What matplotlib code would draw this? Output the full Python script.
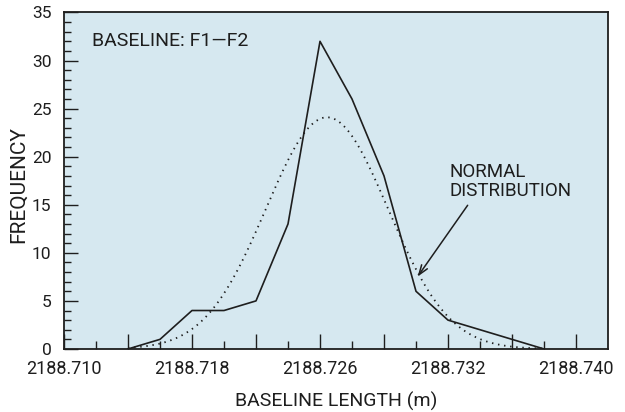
import matplotlib
matplotlib.use('Agg')
import matplotlib.pyplot as plt
import numpy as np

# frequency polygon of repeated baseline measurements F1-F2
BIN_LENGTH = [2188.71375, 2188.715625, 2188.7175, 2188.719375, 2188.72125,
              2188.723125, 2188.725, 2188.726875, 2188.72875, 2188.730625,
              2188.7325, 2188.734375, 2188.73625, 2188.738125]
FREQUENCY = [0, 1, 4, 4, 5, 13, 32, 26, 18, 6, 3, 2, 1, 0]

# fitted normal curve
NORMAL_MEAN = 2188.72541
NORMAL_STD = 0.00357
BIN_WIDTH = 0.001875

X_TICKS = [2188.710, 2188.71375, 2188.7175, 2188.72125, 2188.725,
           2188.72875, 2188.7325, 2188.73625, 2188.740]
X_TICK_LABELS = ['2188.710', '', '2188.718', '', '2188.726', '', '2188.732', '', '2188.740']
Y_TICKS = [0, 5, 10, 15, 20, 25, 30, 35]

plt.rcParams['font.family'] = ['Roboto', 'DejaVu Sans']
INK = '#1e1e1e'
BG = '#d6e8f0'

fig = plt.figure(figsize=(6.25, 4.12), dpi=100)
ax = fig.add_axes([0.1024, 0.153, 0.8704, 0.8167])
ax.set_facecolor(BG)

ax.plot(BIN_LENGTH, FREQUENCY, color=INK, linewidth=1.2)

n_total = sum(FREQUENCY)
xs = np.linspace(BIN_LENGTH[0], BIN_LENGTH[-1], 300)
ys = n_total * BIN_WIDTH / (np.sqrt(2 * np.pi) * NORMAL_STD) * \
    np.exp(-0.5 * ((xs - NORMAL_MEAN) / NORMAL_STD) ** 2)
ax.plot(xs, ys, color=INK, linewidth=1.3, linestyle=(0, (0.8, 2.6)))

ax.set_xlim(2188.710, 2188.741875)
ax.set_ylim(0, 35)

ax.set_xticks(X_TICKS)
ax.set_xticklabels(X_TICK_LABELS)
ax.set_xticks([2188.710 + 0.001875 * (2 * i + 1) for i in range(8)], minor=True)
ax.set_yticks(Y_TICKS)
ax.set_yticks(range(0, 36), minor=True)

ax.tick_params(which='both', direction='in', top=False, right=False,
               colors=INK, labelsize=13, width=1.0)
ax.tick_params(axis='x', which='major', length=11, pad=8)
ax.tick_params(axis='x', which='minor', length=6)
ax.tick_params(axis='y', which='major', length=10, pad=9, labelsize=12.5)
ax.tick_params(axis='y', which='minor', length=5)

for sp in ax.spines.values():
    sp.set_color(INK)
    sp.set_linewidth(1.3)

ax.set_xlabel('BASELINE LENGTH (m)', fontsize=14, color=INK, labelpad=10)
ax.set_ylabel('FREQUENCY', fontsize=15, color=INK)
ax.yaxis.set_label_coords(-0.066, 0.49)

ax.text(0.051, 0.915, 'BASELINE: F1\u2014F2', transform=ax.transAxes,
        fontsize=14, color=INK, va='center', ha='left')
ax.text(0.709, 0.497, 'NORMAL\nDISTRIBUTION', transform=ax.transAxes,
        fontsize=13.5, color=INK, va='center', ha='left', linespacing=1.05)
ax.annotate('', xy=(0.650, 0.215), xytext=(0.742, 0.427),
            xycoords='axes fraction', textcoords='axes fraction',
            arrowprops=dict(arrowstyle='->,head_length=0.7,head_width=0.25',
                            color=INK, linewidth=1.1, shrinkA=0, shrinkB=0))

fig.savefig('out.png', dpi=100)
